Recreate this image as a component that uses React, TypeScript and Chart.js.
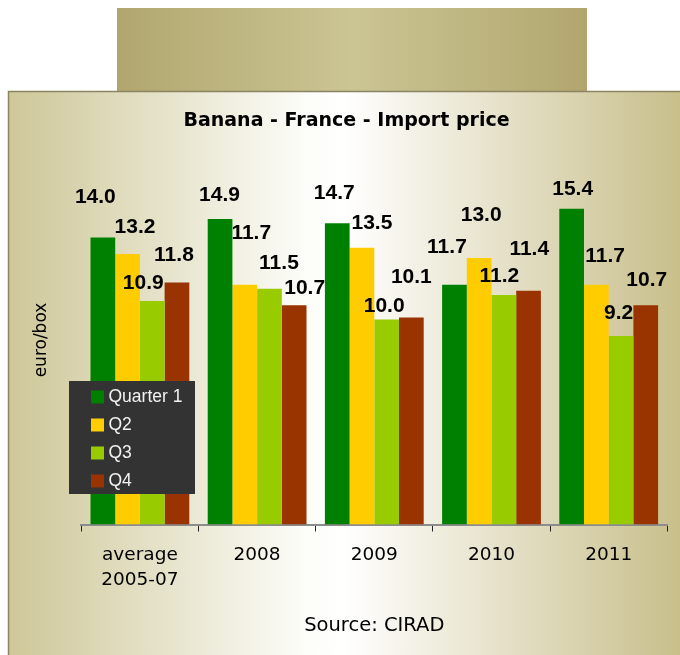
import React, { useEffect, useRef } from 'react';
import { Chart, registerables } from 'chart.js';

Chart.register(...registerables);

// ---- data ----
const categories: (string | string[])[] = [['average', '2005-07'], '2008', '2009', '2010', '2011'];
const seriesNames = ['Quarter 1', 'Q2', 'Q3', 'Q4'];
const quarter1 = [14.0, 14.9, 14.7, 11.7, 15.4];
const quarter2 = [13.2, 11.7, 13.5, 13.0, 11.7];
const quarter3 = [10.9, 11.5, 10.0, 11.2, 9.2];
const quarter4 = [11.8, 10.7, 10.1, 11.4, 10.7];
const yMin = 0;
const yMax = 18;
const chartTitle = 'Banana - France - Import price';
const yAxisTitle = 'euro/box';
const sourceText = 'Source: CIRAD';

// ---- styles ----
const seriesColors = ['#008000', '#ffcc00', '#99cc00', '#993300'];
// manual nudges of the value labels (px) relative to bar top centre, per series, per category
const labelNudgeX = [
  [-7.5, -0.5, -3, -7.5, 1],
  [7.5, 6.5, 10, 2, 8.7],
  [-9, 9.5, -2.5, -4.5, -2.5],
  [-3, 10.5, 0, 0.7, 1],
];
const labelNudgeY = [
  [40.5, 24, 30, 37.3, 19.8],
  [27, 51.7, 24.7, 43, 28],
  [18, 26, 12.8, 18.2, 22.6],
  [27.6, 17, 40, 41.8, 25],
];
const SANS = '"Liberation Sans", Arial, sans-serif';
const WIDE = '"DejaVu Sans", sans-serif';

const backgroundPlugin = {
  id: 'pageBackground',
  beforeDraw(chart: any) {
    const ctx = chart.ctx as CanvasRenderingContext2D;
    ctx.save();
    // top box
    let g = ctx.createLinearGradient(117, 0, 587, 0);
    g.addColorStop(0, '#b1a66e');
    g.addColorStop(0.5, '#cbc594');
    g.addColorStop(1, '#b1a66e');
    ctx.fillStyle = g;
    ctx.fillRect(117, 8, 470, 83);
    // main box
    g = ctx.createLinearGradient(8, 0, 680, 0);
    g.addColorStop(0, '#cec798');
    g.addColorStop(0.44, '#fcfcf8');
    g.addColorStop(0.5, '#ffffff');
    g.addColorStop(1, '#c8bf8b');
    ctx.fillStyle = g;
    ctx.fillRect(8, 91, 672, 564);
    ctx.strokeStyle = '#8a8460';
    ctx.lineWidth = 1.5;
    ctx.beginPath();
    ctx.moveTo(8.5, 655);
    ctx.lineTo(8.5, 91.5);
    ctx.lineTo(680, 91.5);
    ctx.stroke();
    ctx.restore();
  },
};

const valueLabelPlugin = {
  id: 'valueLabels',
  afterDatasetsDraw(chart: any) {
    const ctx = chart.ctx as CanvasRenderingContext2D;
    ctx.save();
    ctx.font = `bold 21px ${SANS}`;
    ctx.fillStyle = '#000000';
    ctx.textAlign = 'center';
    ctx.textBaseline = 'middle';
    chart.data.datasets.forEach((ds: any, i: number) => {
      const meta = chart.getDatasetMeta(i);
      meta.data.forEach((bar: any, j: number) => {
        const v = ds.data[j] as number;
        ctx.fillText(v.toFixed(1), bar.x + labelNudgeX[i][j], bar.y - labelNudgeY[i][j]);
      });
    });
    ctx.restore();
  },
};

const legendPlugin = {
  id: 'overlayLegend',
  afterDraw(chart: any) {
    const ctx = chart.ctx as CanvasRenderingContext2D;
    const area = chart.chartArea;
    const x0 = area.left - 12.3;
    const y0 = area.top + 225.5;
    const w = 126;
    const h = 113;
    ctx.save();
    ctx.fillStyle = '#333333';
    ctx.fillRect(x0, y0, w, h);
    ctx.font = `17.5px ${SANS}`;
    ctx.textBaseline = 'middle';
    ctx.textAlign = 'left';
    chart.data.datasets.forEach((ds: any, i: number) => {
      const cy = y0 + 16 + i * 28;
      ctx.fillStyle = ds.backgroundColor;
      ctx.fillRect(x0 + 22, cy - 6.5, 13, 13);
      ctx.fillStyle = '#f2f2f2';
      ctx.fillText(ds.label, x0 + 39.5, cy + 0.5);
    });
    ctx.restore();
  },
};

export default function App() {
  const canvasRef = useRef<HTMLCanvasElement | null>(null);

  useEffect(() => {
    if (!canvasRef.current) return;
    const seriesData = [quarter1, quarter2, quarter3, quarter4];
    const chart = new Chart(canvasRef.current, {
      type: 'bar',
      data: {
        labels: categories,
        datasets: seriesData.map((d, i) => ({
          label: seriesNames[i],
          data: d,
          backgroundColor: seriesColors[i],
          borderWidth: 0,
          categoryPercentage: 0.843,
          barPercentage: 1,
        })),
      },
      options: {
        responsive: false,
        animation: false,
        devicePixelRatio: 1,
        layout: { padding: { left: 25.7, right: 12.7, top: 91, bottom: 10 } },
        plugins: {
          legend: { display: false },
          tooltip: { enabled: false },
          title: {
            display: true,
            text: chartTitle,
            color: '#000000',
            font: { family: WIDE, size: 19, weight: 'bold', lineHeight: 1.2 },
            padding: { top: 18.6, bottom: 23.1 },
          },
        },
        scales: {
          x: {
            grid: {
              display: true,
              drawOnChartArea: false,
              drawTicks: true,
              tickLength: 7,
              color: '#222222',
              lineWidth: 1,
              offset: true,
            },
            border: { display: true, color: '#8c8c8c', width: 2 },
            ticks: {
              color: '#000000',
              padding: 11,
              maxRotation: 0,
              autoSkip: false,
              font: { family: WIDE, size: 18.5, lineHeight: 1.362 },
            },
            title: {
              display: true,
              text: sourceText,
              color: '#000000',
              font: { family: WIDE, size: 19.5, lineHeight: 1.2 },
              padding: { top: 0, bottom: 7 },
            },
            afterFit: (scale: any) => {
              scale.height = 120.5;
            },
          },
          y: {
            min: yMin,
            max: yMax,
            grid: { display: false },
            border: { display: false },
            ticks: { display: false },
            title: {
              display: true,
              text: yAxisTitle,
              color: '#000000',
              font: { family: WIDE, size: 17, lineHeight: 1.2 },
              padding: { top: 5.6, bottom: 0 },
            },
            afterFit: (scale: any) => {
              scale.width = 55.6;
            },
          },
        },
      },
      plugins: [backgroundPlugin, valueLabelPlugin, legendPlugin],
    });
    return () => chart.destroy();
  }, []);

  return (
    <div style={{ position: 'absolute', left: 0, top: 0, width: 680, height: 655, overflow: 'hidden' }}>
      <canvas ref={canvasRef} width={680} height={655} style={{ display: 'block' }} />
    </div>
  );
}
